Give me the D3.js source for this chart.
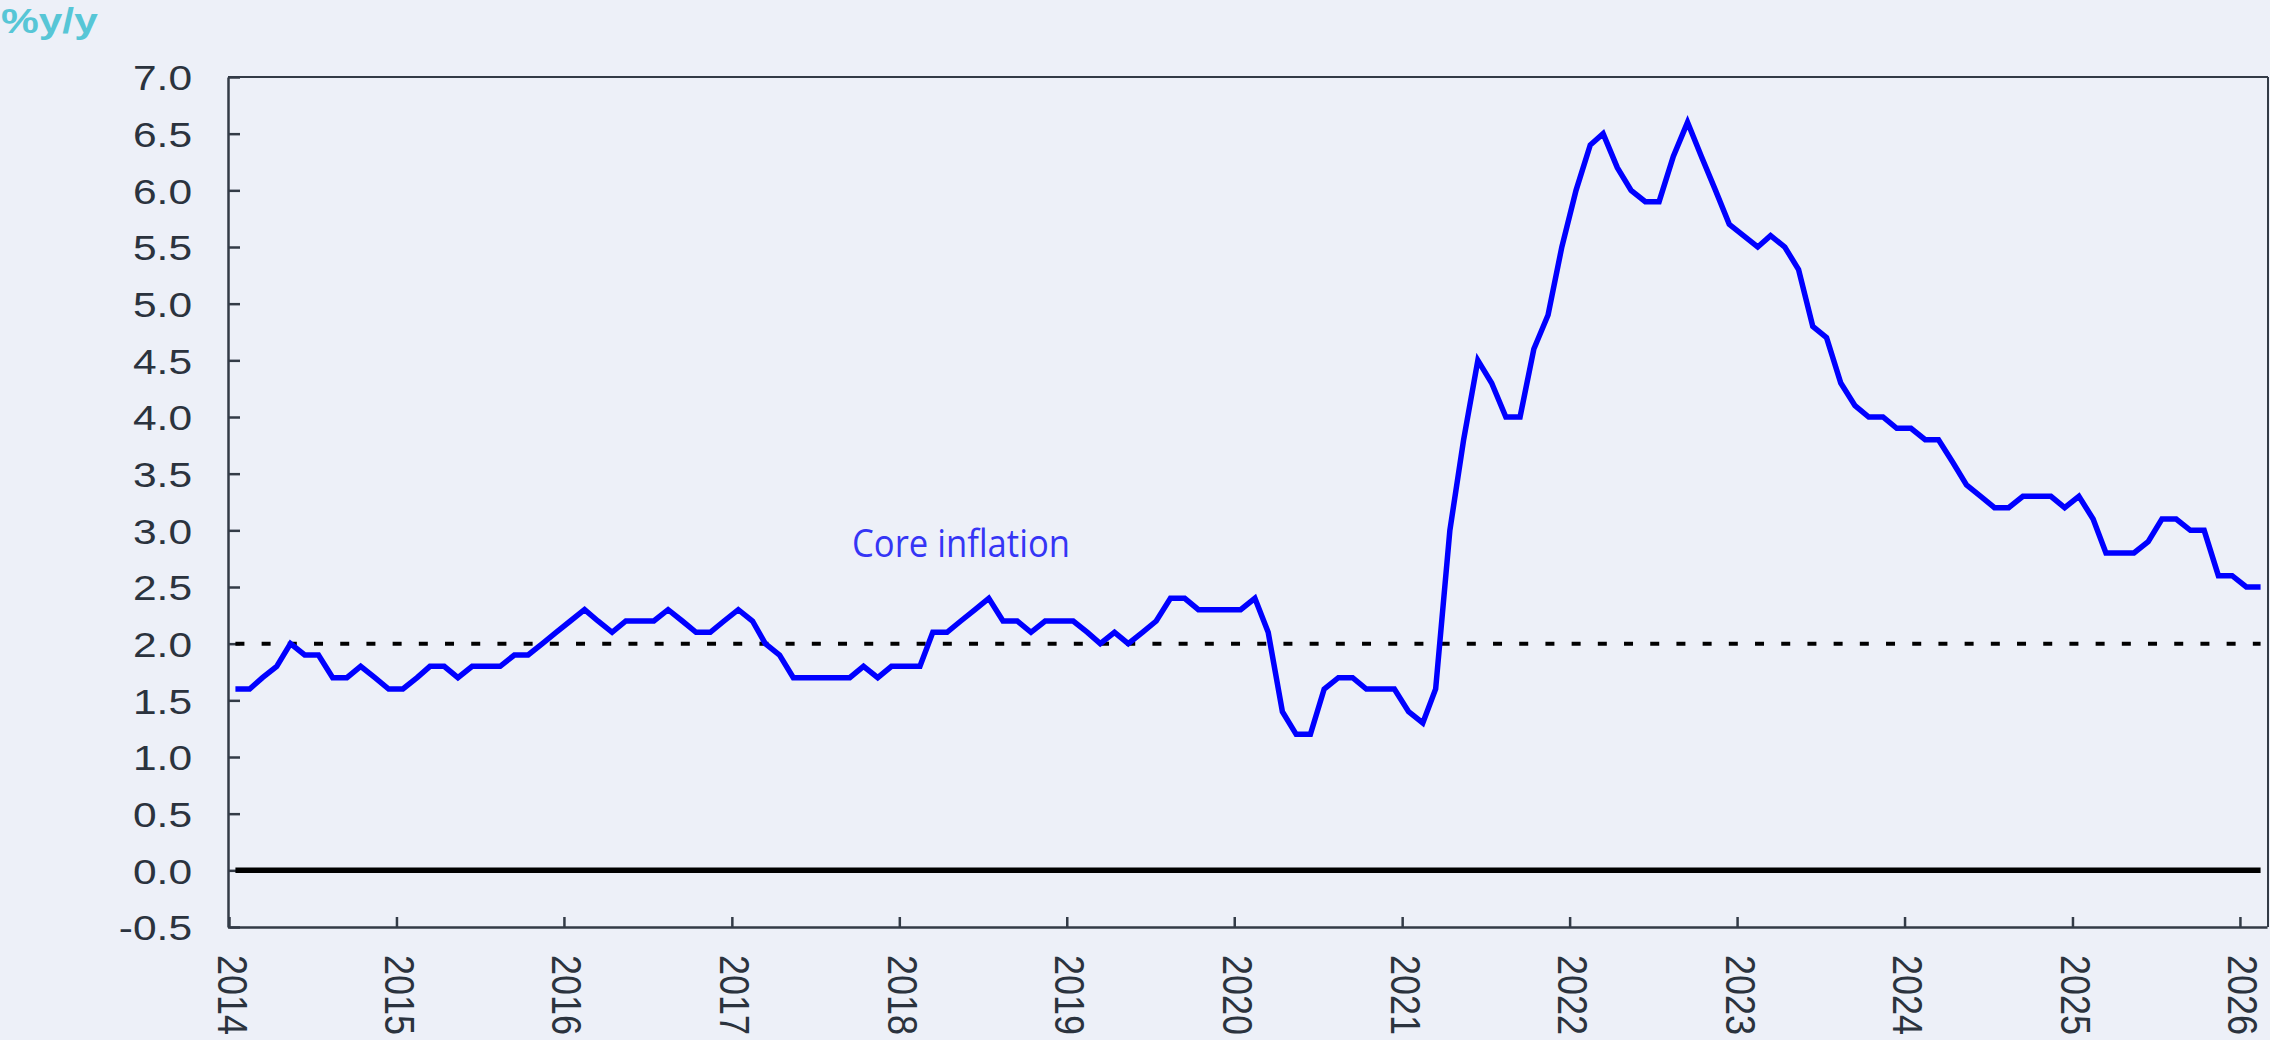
<!DOCTYPE html>
<html>
<head>
<meta charset="utf-8">
<script src="https://cdn.jsdelivr.net/npm/d3@7"></script>
<style>
  html, body { margin: 0; padding: 0; background: #edf0f8; }
  svg { display: block; }
</style>
</head>
<body>
<div id="chart"></div>
<script>
// data: monthly core inflation, %y/y, Jan 2014 .. Feb 2026
const startYear = 2014;
const coreInflation = [
    1.6, 1.6, 1.7, 1.8, 2.0, 1.9, 1.9, 1.7, 1.7, 1.8, 1.7, 1.6,   // 2014
    1.6, 1.7, 1.8, 1.8, 1.7, 1.8, 1.8, 1.8, 1.9, 1.9, 2.0, 2.1,   // 2015
    2.2, 2.3, 2.2, 2.1, 2.2, 2.2, 2.2, 2.3, 2.2, 2.1, 2.1, 2.2,   // 2016
    2.3, 2.2, 2.0, 1.9, 1.7, 1.7, 1.7, 1.7, 1.7, 1.8, 1.7, 1.8,   // 2017
    1.8, 1.8, 2.1, 2.1, 2.2, 2.3, 2.4, 2.2, 2.2, 2.1, 2.2, 2.2,   // 2018
    2.2, 2.1, 2.0, 2.1, 2.0, 2.1, 2.2, 2.4, 2.4, 2.3, 2.3, 2.3,   // 2019
    2.3, 2.4, 2.1, 1.4, 1.2, 1.2, 1.6, 1.7, 1.7, 1.6, 1.6, 1.6,   // 2020
    1.4, 1.3, 1.6, 3.0, 3.8, 4.5, 4.3, 4.0, 4.0, 4.6, 4.9, 5.5,   // 2021
    6.0, 6.4, 6.5, 6.2, 6.0, 5.9, 5.9, 6.3, 6.6, 6.3, 6.0, 5.7,   // 2022
    5.6, 5.5, 5.6, 5.5, 5.3, 4.8, 4.7, 4.3, 4.1, 4.0, 4.0, 3.9,   // 2023
    3.9, 3.8, 3.8, 3.6, 3.4, 3.3, 3.2, 3.2, 3.3, 3.3, 3.3, 3.2,   // 2024
    3.3, 3.1, 2.8, 2.8, 2.8, 2.9, 3.1, 3.1, 3.0, 3.0, 2.6, 2.6,   // 2025
    2.5, 2.5                                                      // 2026
];
const targetLevel = 2.0;
const yTicks = [-0.5, 0, 0.5, 1, 1.5, 2, 2.5, 3, 3.5, 4, 4.5, 5, 5.5, 6, 6.5, 7];
const unitLabel = '%y/y';
const seriesLabel = 'Core inflation';

// layout
const width = 2270;
const height = 1040;
const plot = {left: 228, right: 2267, top: 77, bottom: 927};
const stretch = 1.18;           // glyphs in the reference are drawn wide
const axisColor = '#333b47';
const textColor = '#2b333e';
const tickFont = '"Liberation Sans", Arial, sans-serif';

const monthDate = (i) => new Date(startYear, i, 15);
const points = coreInflation.map((v, i) => ({date: monthDate(i), value: v}));

const x = d3.scaleTime()
    .domain([new Date(startYear, 0, 1), new Date(2026, 2, 1)])
    .range([plot.left + 1, plot.right]);

const y = d3.scaleLinear()
    .domain([-0.5, 7])
    .range([plot.bottom, plot.top]);

const svg = d3.select('#chart').append('svg')
    .attr('width', width)
    .attr('height', height);

svg.append('rect')
    .attr('width', width)
    .attr('height', height)
    .attr('fill', '#edf0f8');

// frame top / right
svg.append('line')
    .attr('x1', plot.left).attr('x2', plot.right + 1)
    .attr('y1', plot.top).attr('y2', plot.top)
    .attr('stroke', axisColor).attr('stroke-width', 2);
svg.append('line')
    .attr('x1', plot.right + 1).attr('x2', plot.right + 1)
    .attr('y1', plot.top).attr('y2', plot.bottom)
    .attr('stroke', axisColor).attr('stroke-width', 2);

// y axis
const gy = svg.append('g')
    .attr('transform', `translate(${plot.left},0)`)
    .call(d3.axisLeft(y)
        .tickValues(yTicks)
        .tickFormat(d => d.toFixed(1))
        .tickSizeInner(-12)
        .tickSizeOuter(0));
gy.attr('font-size', 36).attr('font-family', tickFont);
gy.select('.domain').attr('stroke', axisColor).attr('stroke-width', 2.5);
gy.selectAll('.tick line').attr('stroke', axisColor).attr('stroke-width', 2.5);
gy.selectAll('.tick text')
    .attr('x', null)
    .attr('dy', null)
    .attr('text-anchor', 'end')
    .attr('fill', textColor)
    .attr('transform', `translate(-36,12.8) scale(${stretch},1)`);

// x axis, labels turned to read downwards
const gx = svg.append('g')
    .attr('transform', `translate(0,${plot.bottom})`)
    .call(d3.axisBottom(x)
        .ticks(d3.timeYear.every(1))
        .tickFormat(d3.timeFormat('%Y'))
        .tickSizeInner(-10)
        .tickSizeOuter(0));
gx.attr('font-size', 36).attr('font-family', tickFont);
gx.select('.domain').attr('stroke', axisColor).attr('stroke-width', 2.5);
gx.selectAll('.tick line').attr('stroke', axisColor).attr('stroke-width', 2.5);
gx.selectAll('.tick text')
    .attr('y', null)
    .attr('dy', null)
    .attr('text-anchor', 'start')
    .attr('fill', textColor)
    .attr('transform', `translate(-12,28) scale(${stretch},1) rotate(90)`);

// reference lines: zero and target
const flatLine = (level) => d3.line()
    .x(d => x(d.date))
    .y(() => y(level));

svg.append('path')
    .datum(points)
    .attr('d', flatLine(0))
    .attr('fill', 'none')
    .attr('stroke', '#000')
    .attr('stroke-width', 5.5);

svg.append('path')
    .datum(points)
    .attr('d', flatLine(targetLevel))
    .attr('fill', 'none')
    .attr('stroke', '#000')
    .attr('stroke-width', 4)
    .attr('stroke-dasharray', '9 17.2');

// core inflation series
const line = d3.line()
    .x(d => x(d.date))
    .y(d => y(d.value));

svg.append('path')
    .datum(points)
    .attr('d', line)
    .attr('fill', 'none')
    .attr('stroke', '#0000ff')
    .attr('stroke-width', 5.5)
    .attr('stroke-linejoin', 'miter');

// series label
svg.append('text')
    .attr('x', 852)
    .attr('y', 557)
    .attr('font-family', '"Open Sans", "Noto Sans", sans-serif')
    .attr('font-size', 38)
    .attr('fill', '#3535f5')
    .attr('textLength', 218)
    .attr('lengthAdjust', 'spacingAndGlyphs')
    .text(seriesLabel);

// unit label
svg.append('text')
    .attr('transform', `translate(1,33) scale(${stretch},1)`)
    .attr('font-family', tickFont)
    .attr('font-weight', 'bold')
    .attr('font-size', 36)
    .attr('fill', '#57c6d6')
    .text(unitLabel);
</script>
</body>
</html>
